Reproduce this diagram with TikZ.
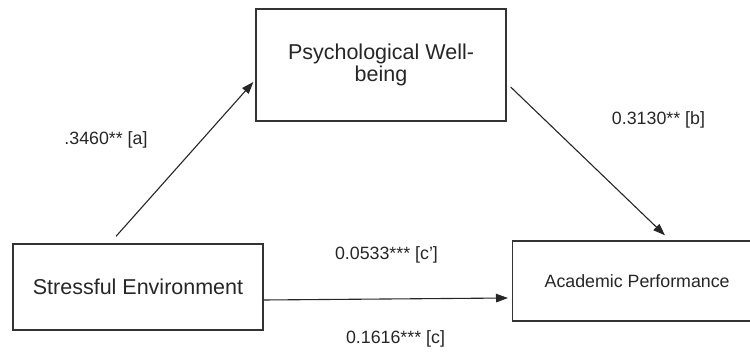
\documentclass[tikz,border=0pt]{standalone}
\usepackage{fontspec}
\setmainfont{Liberation Sans}
\usetikzlibrary{calc,arrows.meta}
\begin{document}
\begin{tikzpicture}[x=1pt,y=-1pt,
  box/.style={draw=black!80,line width=1.3pt,rectangle,inner sep=0pt,align=center,
    font=\fontsize{21.5}{22}\selectfont,text=black!85},
  conn/.style={draw=black!85,line width=1.1pt,-{Triangle[length=12pt,width=8.5pt]}},
  lab/.style={font=\fontsize{17.8}{20}\selectfont,text=black!85,inner sep=0pt}]
\useasboundingbox (0,0) rectangle (750,352);
\clip (0,0) rectangle (750,352);
\node[box,minimum width=250pt,minimum height=112pt] (pwb) at (381,65) {Psychological Well-\\being};
\node[box,minimum width=250pt,minimum height=86pt] (se) at (138,287) {Stressful Environment};
\node[box,minimum width=300pt,minimum height=80pt,font=\fontsize{17.8}{20}\selectfont,anchor=west] (ap) at (512,281) {\hspace*{32pt}Academic Performance\hspace*{83pt}};
\draw[conn] ($(se.north)+(-22,-7)$) -- ($(pwb.west)+(-2,17)$);
\draw[conn] ($(pwb.east)+(4,22)$) -- ($(ap.north west)+(153,-5)$);
\draw[conn] ($(se.east)+(0,13)$) -- ($(ap.west)+(-4,17)$);
\node[lab] (la) at (106,140) {.3460** [a]};
\node[lab] (lb) at (658.5,120) {0.3130** [b]};
\node[lab] (lc1) at (386.5,255) {0.0533*** [c{\char"0027}]};
\node[lab] (lc) at (395.5,339) {0.1616*** [c]};
\end{tikzpicture}
\end{document}
